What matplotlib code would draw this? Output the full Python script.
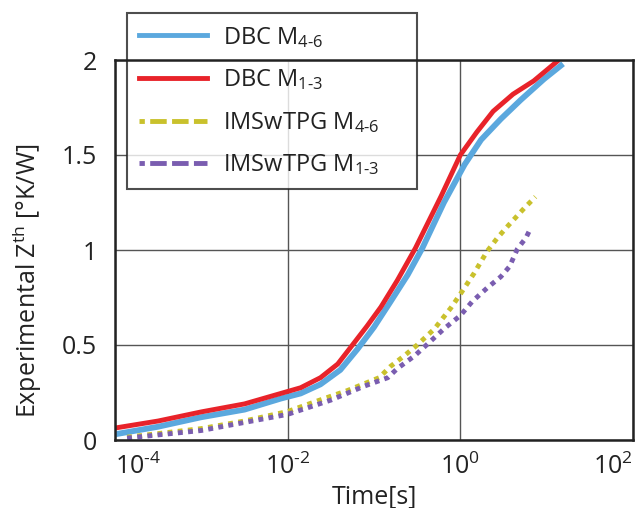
import matplotlib
matplotlib.use("Agg")
import matplotlib.pyplot as plt
from matplotlib.lines import Line2D
import numpy as np

plt.rcParams["font.family"] = ["Open Sans", "DejaVu Sans"]
plt.rcParams["mathtext.fontset"] = "custom"
plt.rcParams["mathtext.rm"] = "Open Sans"
plt.rcParams["mathtext.it"] = "Open Sans"
plt.rcParams["mathtext.default"] = "regular"

# Daten (log10 Zeit, Zth)
dbc_m13_logt = [-4, -3.5, -3, -2.5, -2.08, -1.85, -1.62, -1.42, -1.27, -1.08, -0.92, -0.73, -0.52,
                -0.22, 0, 0.19, 0.38, 0.61, 0.85, 1.14]
dbc_m13_z    = [0.063, 0.10, 0.148, 0.19, 0.245, 0.275, 0.328, 0.40, 0.488, 0.60, 0.70, 0.84, 1.01,
                1.286, 1.50, 1.62, 1.73, 1.82, 1.89, 2.0]

dbc_m46_logt = [-4, -3.5, -3, -2.5, -2.08, -1.85, -1.62, -1.39, -1.19, -1.0, -0.81, -0.61, -0.44,
                -0.19, 0.05, 0.24, 0.47, 0.70, 0.97, 1.19]
dbc_m46_z    = [0.03, 0.07, 0.12, 0.16, 0.218, 0.245, 0.293, 0.369, 0.479, 0.594, 0.727, 0.869, 1.01,
                1.25, 1.45, 1.58, 1.69, 1.79, 1.90, 1.98]

ims_m46_logt = [-3.86, -3, -2.5, -2, -1.66, -1.31, -0.94, -0.81, -0.65, -0.50, -0.30, -0.11, 0.0,
                0.16, 0.31, 0.43, 0.55, 0.74, 0.87]
ims_m46_z    = [0.015, 0.06, 0.10, 0.15, 0.205, 0.26, 0.328, 0.387, 0.443, 0.50, 0.585, 0.695, 0.768,
                0.878, 0.993, 1.064, 1.126, 1.22, 1.28]

ims_m13_logt = [-3.86, -3, -2, -1.5, -1.11, -0.84, -0.73, -0.53, -0.38, -0.19, 0.0, 0.14, 0.31,
                0.47, 0.57, 0.66, 0.76, 0.82]
ims_m13_z    = [0.01, 0.05, 0.135, 0.21, 0.284, 0.328, 0.376, 0.443, 0.505, 0.585, 0.655, 0.73, 0.80,
                0.86, 0.913, 1.005, 1.064, 1.12]

c_blue, c_red, c_yel, c_pur = "#5BA8DE", "#E8232A", "#C9C12C", "#7A5DB0"

fig = plt.figure(figsize=(6.35, 5.08), dpi=100)
ax = fig.add_axes([115 / 635, 68 / 508, 518 / 635, 380 / 508])

t = lambda lg: 10.0 ** np.array(lg)
ax.plot(t(dbc_m46_logt), dbc_m46_z, color=c_blue, lw=4.2, solid_capstyle="butt", zorder=3)
ax.plot(t(dbc_m13_logt), dbc_m13_z, color=c_red, lw=3.5, solid_capstyle="butt", zorder=3)
ax.plot(t(ims_m46_logt), ims_m46_z, color=c_yel, lw=3.5, ls=(0, (1, 1.1)), dash_capstyle="butt", zorder=3)
ax.plot(t(ims_m13_logt), ims_m13_z, color=c_pur, lw=3.5, ls=(0, (1, 1.1)), dash_capstyle="butt", zorder=3)

ax.set_xscale("log")
ax.set_xlim(1e-4, 1e2)
ax.set_ylim(0, 2)
ax.set_xticks([1e-4, 1e-2, 1e0, 1e2])
ax.set_xticklabels(["$10^{\\text{-4}}$", "$10^{\\text{-2}}$", "$10^{0}$", "$10^{2}$"])
ax.minorticks_off()
ax.set_yticks([0, 0.5, 1, 1.5, 2])
ax.set_yticklabels(["0", "0.5", "1", "1.5", "2"])
ax.tick_params(length=0, labelsize=18, colors="#222222")
ax.tick_params(axis="x", pad=10)
ax.tick_params(axis="y", pad=13)
xl = ax.get_xticklabels()
xl[0].set_ha("left")
xl[-1].set_ha("right")
ax.grid(True, color="#555555", lw=1.0)

for s in ax.spines.values():
    s.set_linewidth(1.8)
    s.set_color("#222222")
    s.set_zorder(7)

ax.set_xlabel("Time[s]", fontsize=18, color="#222222", labelpad=3)
ax.set_ylabel("Experimental Z$^{th}$ [°K/W]", fontsize=18, color="#222222")
ax.yaxis.set_label_coords(-0.138, 0.42)

dash = (2.3, (3.4, 1.1))
handles = [
    Line2D([], [], color=c_blue, lw=3.5),
    Line2D([], [], color=c_red, lw=3.5),
    Line2D([], [], color=c_yel, lw=3.5, ls=dash),
    Line2D([], [], color=c_pur, lw=3.5, ls=dash),
]
labels = ["DBC M$_{\\text{4-6}}$", "DBC M$_{\\text{1-3}}$",
          "IMSwTPG M$_{\\text{4-6}}$", "IMSwTPG M$_{\\text{1-3}}$"]
leg = ax.legend(handles, labels, loc="upper left",
                bbox_to_anchor=(127 / 635, 1 - 190 / 508, 290 / 635, 177 / 508),
                bbox_transform=fig.transFigure, mode="expand", fontsize=17, frameon=True,
                fancybox=False, handlelength=2.9, handletextpad=0.68, labelspacing=0.75,
                borderpad=0.5, borderaxespad=0)
leg.get_frame().set_edgecolor("#222222")
leg.get_frame().set_linewidth(1.5)
leg.set_zorder(6)
for txt in leg.get_texts():
    txt.set_color("#222222")

fig.savefig("out.png", dpi=100)
